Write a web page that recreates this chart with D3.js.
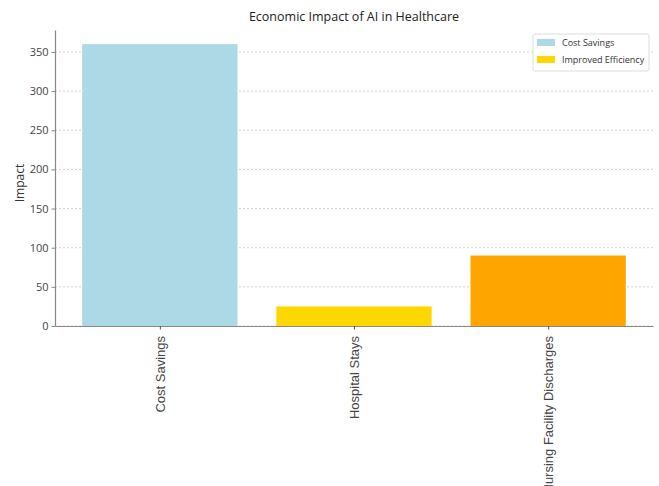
<!DOCTYPE html>
<html><head><meta charset="utf-8">
<script src="https://cdn.jsdelivr.net/npm/d3@7"></script>
<style>body{margin:0;background:#fff;} text{font-family:"Open Sans","DejaVu Sans",sans-serif;}</style>
</head><body>
<svg id="c" width="659" height="486"></svg>
<script>
const categories = ["Cost Savings", "Hospital Stays", "Nursing Facility Discharges"];
const values = [360, 25, 90];
const colors = ["#add8e6", "#ffd700", "#ffa500"];
const yTicks = [0, 50, 100, 150, 200, 250, 300, 350];
const legendLabels = ["Cost Savings", "Improved Efficiency"];
const legendColors = ["#add8e6", "#ffd700"];

const svg = d3.select("#c");
const mLeft = 55, mRight = 653, mTop = 30, mBottom = 326;

const x = d3.scaleLinear().domain([-0.54, 2.54]).range([mLeft, mRight]);
const y = d3.scaleLinear().domain([0, 378]).range([mBottom, mTop]);
const bw = x(0.4) - x(0);

// grid
svg.append("g").selectAll("line").data(yTicks).join("line")
  .attr("x1", mLeft).attr("x2", mRight)
  .attr("y1", d => y(d)).attr("y2", d => y(d))
  .attr("stroke", "#c8c8c8").attr("stroke-width", 0.8).attr("stroke-dasharray", "2,2");

// bars
svg.append("g").selectAll("rect").data(values).join("rect")
  .attr("x", (d, i) => x(i) - bw)
  .attr("width", 2 * bw)
  .attr("y", d => y(d))
  .attr("height", d => y(0) - y(d))
  .attr("fill", (d, i) => colors[i]);

// y axis
const yAxis = svg.append("g").attr("transform", `translate(${mLeft},0)`)
  .call(d3.axisLeft(y).tickValues(yTicks).tickSize(3.5).tickPadding(3).tickSizeOuter(0));
yAxis.select(".domain").attr("stroke", "#888").attr("stroke-width", 1.2);
yAxis.selectAll(".tick line").attr("stroke", "#888");
yAxis.selectAll("text").attr("fill", "#444").style("font-size", "11px");

// x axis
const xAxis = svg.append("g").attr("transform", `translate(0,${mBottom})`)
  .call(d3.axisBottom(x).tickValues([0, 1, 2]).tickFormat(i => categories[i]).tickSize(3.5).tickSizeOuter(0));
xAxis.select(".domain").attr("stroke", "#888").attr("stroke-width", 1.2);
xAxis.selectAll(".tick line").attr("stroke", "#555");
xAxis.selectAll("text")
  .attr("fill", "#444").style("font-size", "13px")
  .style("font-family", "'Liberation Sans', Arial, sans-serif")
  .attr("transform", "rotate(-90)")
  .attr("text-anchor", "end")
  .attr("x", -10).attr("y", 0).attr("dy", "0.35em");

// title
svg.append("text").attr("x", 354).attr("y", 21).attr("text-anchor", "middle")
  .style("font-size", "12.5px").attr("fill", "#222").text("Economic Impact of AI in Healthcare");

// y label
svg.append("text").attr("transform", "translate(24,183) rotate(-90)").attr("text-anchor", "middle")
  .style("font-size", "12px").attr("fill", "#333").text("Impact");

// legend
const lg = svg.append("g");
lg.append("rect").attr("x", 533).attr("y", 34).attr("width", 116).attr("height", 37)
  .attr("fill", "#fff").attr("stroke", "#ddd").attr("rx", 2);
legendLabels.forEach((l, i) => {
  lg.append("rect").attr("x", 537).attr("y", 39 + i * 17).attr("width", 18).attr("height", 7).attr("fill", legendColors[i]);
  lg.append("text").attr("x", 562).attr("y", 46 + i * 17).style("font-size", "9px").attr("fill", "#333").text(l);
});
</script>
</body></html>
